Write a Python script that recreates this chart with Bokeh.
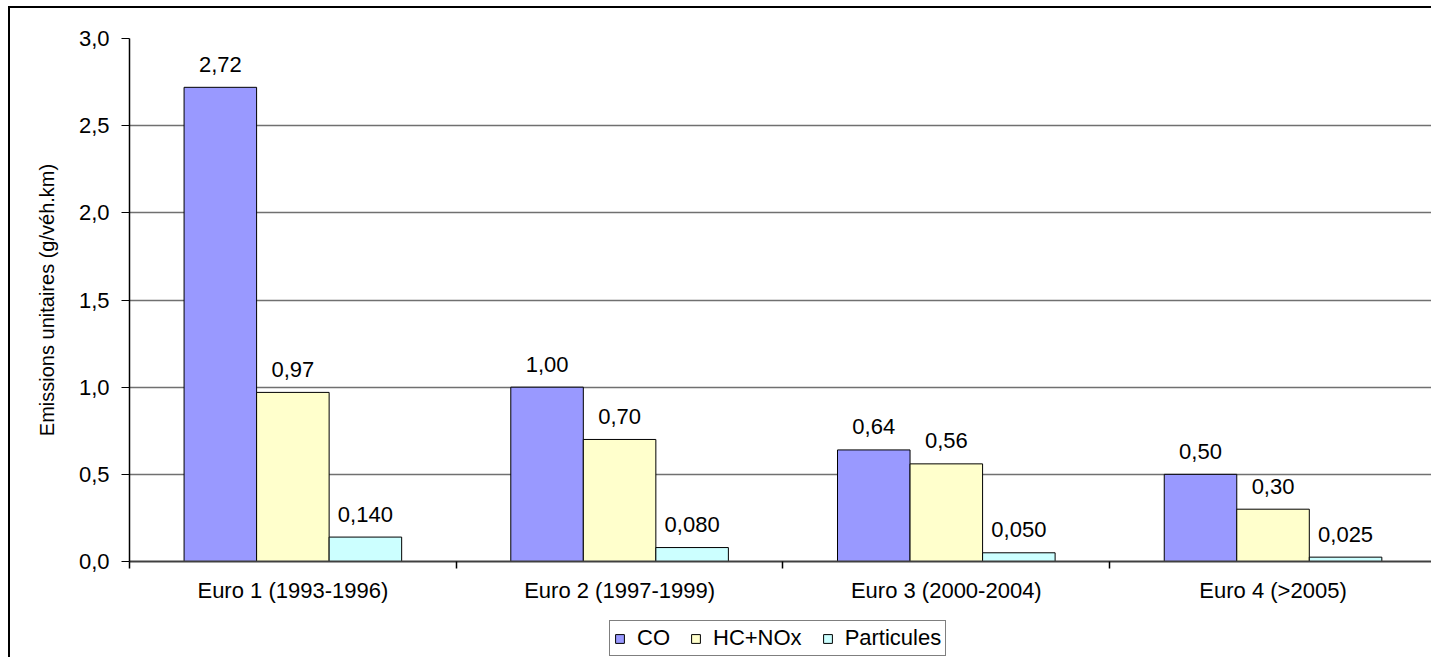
from bokeh.plotting import figure
from bokeh.layouts import column
from bokeh.models import (ColumnDataSource, Range1d, FixedTicker, Legend, LegendItem)
from bokeh.core.properties import value
from bokeh.embed import file_html
from bokeh.resources import INLINE

categories = ["Euro 1 (1993-1996)", "Euro 2 (1997-1999)", "Euro 3 (2000-2004)", "Euro 4 (>2005)"]
series_names = ["CO", "HC+NOx", "Particules"]
co = [2.72, 1.00, 0.64, 0.50]
hc_nox = [0.97, 0.70, 0.56, 0.30]
particules = [0.140, 0.080, 0.050, 0.025]
co_labels = ["2,72", "1,00", "0,64", "0,50"]
hc_labels = ["0,97", "0,70", "0,56", "0,30"]
part_labels = ["0,140", "0,080", "0,050", "0,025"]
y_ticks = [0.0, 0.5, 1.0, 1.5, 2.0, 2.5, 3.0]
y_tick_labels = ["0,0", "0,5", "1,0", "1,5", "2,0", "2,5", "3,0"]

colors = ["#9999FF", "#FFFFCC", "#CCFFFF"]
FONT = "Liberation Sans"
FS = "22px"

W = 1421
H1 = 598
H2 = 51

p = figure(width=W, height=H1, output_backend="svg", toolbar_location=None,
           x_range=Range1d(0, 3.985), y_range=Range1d(0, 3.0),
           min_border_left=119, min_border_top=30, min_border_bottom=45, min_border_right=0)
p.outline_line_color = None
p.background_fill_color = "white"
p.border_fill_color = "white"

bw = 0.222
offsets = [-bw, 0.0, bw]
vals = [co, hc_nox, particules]
labs = [co_labels, hc_labels, part_labels]
sources = []
for k in range(3):
    xs = [i + 0.5 + offsets[k] for i in range(len(categories))]
    src = ColumnDataSource(dict(x=xs, top=vals[k], lab=labs[k]))
    sources.append(src)
    p.vbar(x="x", top="top", width=bw, source=src, fill_color=colors[k],
           line_color="black", line_width=1)
    p.text(x="x", y="top", text="lab", source=src, text_align="center",
           text_baseline="alphabetic", y_offset=-23, text_font=value(FONT),
           text_font_size=FS, text_color="black")

# Y axis
p.yaxis.ticker = FixedTicker(ticks=y_ticks)
p.yaxis.major_label_overrides = {t: l for t, l in zip(y_ticks, y_tick_labels)}
p.yaxis.major_label_text_font = FONT
p.yaxis.major_label_text_font_size = FS
p.yaxis.major_label_text_color = "black"
p.yaxis.major_tick_out = 8
p.yaxis.major_tick_in = 0
p.yaxis.minor_tick_out = 0
p.yaxis.minor_tick_in = 0
p.yaxis.major_tick_line_color = "black"
p.yaxis.axis_line_color = "black"
p.yaxis.axis_line_width = 1.5
p.yaxis.major_label_standoff = 12
p.yaxis.axis_label = "Emissions unitaires (g/véh.km)"
p.yaxis.axis_label_text_font = FONT
p.yaxis.axis_label_text_font_size = "20px"
p.yaxis.axis_label_text_font_style = "normal"
p.yaxis.axis_label_text_color = "black"
p.yaxis.axis_label_standoff = 18

# X axis
p.xaxis.ticker = FixedTicker(ticks=[i + 0.5 for i in range(len(categories))],
                             minor_ticks=[0, 1, 2, 3, 4])
p.xaxis.major_label_overrides = {i + 0.5: c for i, c in enumerate(categories)}
p.xaxis.major_label_text_font = FONT
p.xaxis.major_label_text_font_size = FS
p.xaxis.major_label_text_color = "black"
p.xaxis.major_tick_out = 0
p.xaxis.major_tick_in = 0
p.xaxis.minor_tick_out = 7
p.xaxis.minor_tick_in = 0
p.xaxis.minor_tick_line_color = "black"
p.xaxis.minor_tick_line_width = 1.5
p.xaxis.axis_line_color = "#404040"
p.xaxis.axis_line_width = 2
p.xaxis.major_label_standoff = 9

p.xgrid.grid_line_color = None
p.ygrid.ticker = FixedTicker(ticks=y_ticks)
p.ygrid.grid_line_color = "#707070"
p.ygrid.grid_line_width = 1.5

# Legend strip (same data sources, view range placed away from the bars)
p2 = figure(width=W, height=H2, output_backend="svg", toolbar_location=None,
            x_range=Range1d(10, 11), y_range=Range1d(10, 11),
            x_axis_location=None, y_axis_location=None,
            min_border_left=0, min_border_right=0, min_border_top=0, min_border_bottom=0)
p2.outline_line_color = None
p2.xgrid.grid_line_color = None
p2.ygrid.grid_line_color = None
leg_renderers = []
for k in range(3):
    r = p2.vbar(x="x", top="top", width=bw, source=sources[k], fill_color=colors[k],
                line_color="black", line_width=1)
    leg_renderers.append(r)

legend = Legend(items=[LegendItem(label=n, renderers=[r]) for n, r in zip(series_names, leg_renderers)],
                orientation="horizontal", location=(480, 1))
legend.label_text_font = FONT
legend.label_text_font_size = FS
legend.label_text_color = "black"
legend.glyph_width = 11
legend.glyph_height = 11
legend.label_standoff = 12
legend.spacing = 20
legend.padding = 4
legend.margin = 0
legend.border_line_color = "black"
legend.border_line_width = 1
legend.background_fill_alpha = 1
p2.add_layout(legend, "center")

layout = column(p, p2, spacing=0)
layout.styles = {"border-left": "2px solid black", "border-top": "2px solid black",
                 "margin-left": "8px", "margin-top": "6px"}

open("out.html", "w").write(file_html(layout, INLINE))
